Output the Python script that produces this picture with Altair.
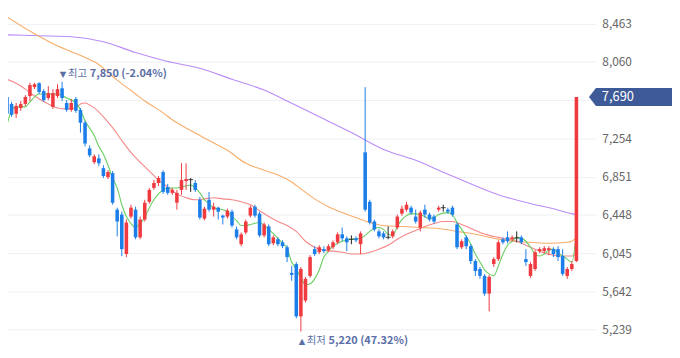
import altair as alt
import pandas as pd

# ---- daily candles (open, high, low, close) ----
opens = [7690, 7617, 7513, 7575, 7617, 7700, 7794, 7835, 7752, 7679, 7586, 7700, 7783, 7627, 7554, 7669,
         7554, 7419, 7148, 7003, 7044, 6940, 6846, 6888, 6503, 6451, 6035, 6430, 6503, 6211, 6399, 6586,
         6732, 6784, 6899, 6742, 6680, 6576, 6711, 6805, 6820, 6784, 6607, 6409, 6607, 6503, 6524, 6440,
         6430, 6482, 6295, 6139, 6263, 6440, 6534, 6461, 6232, 6326, 6149, 6191, 6159, 6107, 5837, 5930,
         5379, 5545, 5805, 6087, 6055, 6087, 6076, 6107, 6159, 6243, 6201, 6191, 6201, 6139, 7107, 6586,
         6378, 6274, 6253, 6211, 6222, 6315, 6461, 6503, 6524, 6430, 6315, 6503, 6451, 6430, 6503, 6524,
         6503, 6524, 6347, 6107, 6211, 6118, 5962, 5878, 5805, 5618, 5930, 5982, 6191, 6211, 6191, 6205,
         6211, 5982, 5805, 5878, 6066, 6066, 6076, 6087, 6087, 6014, 5805, 5878, 5962]
highs = [7752, 7638, 7627, 7648, 7710, 7840, 7840, 7845, 7773, 7804, 7773, 7825, 7850, 7658, 7669, 7690,
         7575, 7440, 7180, 7086, 7086, 6971, 6919, 6909, 6524, 6482, 6399, 6555, 6534, 6430, 6607, 6732,
         6815, 6857, 6919, 6773, 6732, 6711, 6992, 6992, 6836, 6815, 6638, 6534, 6690, 6576, 6534, 6451,
         6513, 6503, 6326, 6263, 6399, 6545, 6555, 6482, 6368, 6347, 6232, 6211, 6180, 6128, 5910, 5951,
         5899, 5795, 6024, 6118, 6128, 6118, 6139, 6180, 6263, 6315, 6222, 6232, 6222, 6274, 7794, 6607,
         6399, 6295, 6274, 6326, 6295, 6451, 6545, 6586, 6545, 6503, 6493, 6555, 6472, 6451, 6545, 6555,
         6524, 6545, 6368, 6191, 6232, 6139, 5982, 5899, 5826, 5816, 6003, 6180, 6211, 6274, 6232, 6274,
         6232, 6087, 5951, 6076, 6107, 6118, 6118, 6107, 6118, 6087, 5899, 5962, 7690]
lows = [7471, 7481, 7471, 7544, 7596, 7648, 7773, 7721, 7638, 7658, 7565, 7679, 7648, 7534, 7534, 7523,
        7315, 7169, 7055, 6982, 6961, 6836, 6826, 6555, 6222, 6014, 6003, 6409, 6191, 6191, 6378, 6565,
        6711, 6753, 6670, 6659, 6659, 6503, 6659, 6711, 6690, 6690, 6399, 6389, 6482, 6430, 6399, 6347,
        6409, 6315, 6191, 6118, 6243, 6420, 6420, 6211, 6211, 6118, 6128, 6118, 6097, 5951, 5753, 5358,
        5220, 5524, 5785, 6014, 6035, 6045, 6055, 6087, 6139, 6170, 6066, 6139, 6159, 6035, 6482, 6347,
        6274, 6201, 6191, 6191, 6201, 6295, 6440, 6482, 6451, 6357, 6274, 6420, 6378, 6357, 6482, 6482,
        6461, 6430, 6087, 6087, 6087, 5930, 5805, 5774, 5597, 5431, 5899, 5962, 6139, 6149, 6170, 6159,
        6139, 5910, 5785, 5857, 6045, 6045, 6024, 6003, 5962, 5805, 5774, 5857, 5951]
closes = [7513, 7502, 7596, 7617, 7690, 7815, 7825, 7742, 7658, 7731, 7731, 7773, 7679, 7554, 7627, 7544,
          7419, 7200, 7075, 7065, 6992, 6857, 6899, 6576, 6378, 6087, 6368, 6524, 6211, 6399, 6576, 6711,
          6784, 6836, 6690, 6680, 6711, 6680, 6815, 6826, 6820, 6711, 6420, 6513, 6503, 6534, 6482, 6420,
          6493, 6336, 6211, 6243, 6378, 6524, 6440, 6232, 6347, 6139, 6211, 6139, 6118, 6003, 5816, 5379,
          5878, 5774, 6003, 6035, 6107, 6066, 6118, 6159, 6243, 6201, 6159, 6191, 6180, 6253, 6503, 6368,
          6295, 6222, 6211, 6211, 6274, 6430, 6513, 6555, 6472, 6378, 6472, 6451, 6399, 6378, 6524, 6524,
          6482, 6451, 6107, 6170, 6118, 5962, 5857, 5805, 5618, 5795, 5982, 6159, 6159, 6170, 6211, 6205,
          6159, 5951, 5930, 6055, 6087, 6097, 6097, 6035, 6003, 5826, 5878, 5930, 7690]

# ---- moving averages: (candle index, value) ----
ma_short = [(0, 7398), (1, 7544), (2, 7586), (4, 7586), (5, 7638), (7, 7721), (9, 7721), (11, 7721),
            (13, 7679), (15, 7627), (16, 7554), (17, 7440), (19, 7284), (20, 7169), (21, 7086), (22, 6971),
            (23, 6836), (24, 6732), (25, 6555), (26, 6430), (27, 6357), (28, 6315), (29, 6357), (30, 6420),
            (31, 6524), (32, 6607), (33, 6669), (34, 6711), (35, 6732), (37, 6732), (39, 6753), (40, 6763),
            (41, 6732), (42, 6680), (43, 6607), (44, 6565), (45, 6524), (47, 6503), (48, 6482), (49, 6430),
            (50, 6388), (51, 6336), (52, 6336), (53, 6347), (55, 6368), (56, 6336), (57, 6295), (59, 6201),
            (60, 6149), (61, 6097), (62, 5951), (63, 5878), (64, 5785), (65, 5712), (66, 5722), (67, 5774),
            (68, 5868), (69, 6003), (70, 6066), (71, 6118), (73, 6170), (75, 6191), (77, 6201), (78, 6232),
            (79, 6274), (80, 6305), (81, 6315), (82, 6295), (83, 6243), (84, 6232), (85, 6326), (86, 6399),
            (87, 6440), (88, 6461), (90, 6451), (92, 6409), (93, 6420), (94, 6451), (96, 6472), (97, 6451),
            (98, 6368), (99, 6295), (100, 6222), (101, 6139), (102, 6035), (103, 5951), (104, 5868),
            (105, 5826), (106, 5805), (107, 5910), (108, 6035), (109, 6128), (110, 6170), (111, 6211),
            (112, 6201), (113, 6170), (114, 6107), (115, 6035), (116, 6014), (117, 6035), (118, 6076),
            (119, 6087), (120, 6045), (121, 6014), (122, 5982), (123, 5951), (124, 6263)]
ma_mid = [(0, 7877), (2, 7835), (4, 7773), (6, 7700), (9, 7617), (11, 7575), (13, 7565), (15, 7575),
          (16, 7617), (17, 7627), (18, 7606), (19, 7575), (21, 7481), (23, 7367), (25, 7232), (27, 7107),
          (29, 7003), (31, 6909), (33, 6815), (35, 6742), (37, 6669), (39, 6628), (41, 6607), (43, 6617),
          (45, 6628), (47, 6617), (49, 6607), (51, 6586), (53, 6555), (55, 6493), (57, 6430), (59, 6378),
          (61, 6336), (63, 6274), (65, 6170), (67, 6107), (69, 6076), (71, 6066), (73, 6055), (75, 6035),
          (77, 6035), (79, 6055), (81, 6087), (83, 6128), (85, 6191), (87, 6243), (89, 6284), (91, 6326),
          (93, 6357), (95, 6378), (97, 6378), (99, 6347), (101, 6305), (103, 6263), (105, 6232),
          (107, 6211), (109, 6191), (111, 6170), (113, 6128), (115, 6087), (117, 6045), (119, 6024),
          (121, 6014), (123, 6014), (124, 6035)]
ma_long = [(0, 8533), (6, 8356), (10, 8252), (14, 8168), (18, 8085), (20, 8033), (22, 7950), (24, 7867),
           (26, 7794), (28, 7721), (30, 7648), (32, 7586), (34, 7523), (36, 7450), (40, 7336), (44, 7232),
           (48, 7128), (52, 6992), (56, 6919), (60, 6846), (62, 6794), (64, 6722), (67, 6617), (70, 6534),
           (73, 6472), (76, 6420), (79, 6368), (82, 6336), (86, 6326), (90, 6315), (94, 6305), (98, 6274),
           (102, 6243), (106, 6201), (110, 6170), (114, 6159), (118, 6149), (122, 6159), (123, 6170),
           (124, 6211)]
ma_xlong = [(0, 8345), (7, 8335), (14, 8325), (21, 8273), (28, 8158), (35, 8064), (42, 7992), (49, 7877),
            (56, 7763), (61, 7648), (68, 7481), (75, 7315), (82, 7138), (89, 7023), (95, 6898), (98, 6836),
            (107, 6659), (115, 6555), (119, 6513), (123, 6461), (124, 6451)]

tick_values = [5239, 5642, 6045, 6448, 6851, 7254, 7657, 8060, 8463]
last_price = 7690
high_idx, high_val, high_pct = 12, 7850, "(-2.04%)"
low_idx, low_val, low_pct = 64, 5220, "(47.32%)"

FONT = "Noto Sans CJK KR"
RED, BLUE, DOJI = "#ef3b40", "#1c7ee9", "#222222"
NOTE = "#5b6ea6"
MA_COLORS = {"short": "#66cf5f", "mid": "#f68888", "long": "#f8ad6a", "xlong": "#b98cf8"}

# ---- tables ----
n = len(opens)
df = pd.DataFrame({"i": list(range(n)), "open": opens, "high": highs, "low": lows, "close": closes})
df["dir"] = ["up" if c > o else ("down" if c < o else "flat") for o, c in zip(opens, closes)]

xs = alt.Scale(domain=[-0.423, 127.17], nice=False, zero=False)
ys = alt.Scale(domain=[4962, 8689], nice=False, zero=False)
yaxis = alt.Axis(orient="right", values=tick_values, grid=True, gridColor="#eef0f5", gridWidth=1,
                 domain=False, ticks=False, labelPadding=6, labelFont=FONT, labelFontSize=12,
                 labelColor="#666666", title=None,
                 labelExpr="datum.value == 7657 ? '' : format(datum.value, ',')")


def X():
    return alt.X("i:Q", scale=xs, axis=None)


def Y(field):
    return alt.Y(f"{field}:Q", scale=ys, axis=yaxis, title=None)


def ma_layer(pts, col):
    d = pd.DataFrame({"i": [p[0] for p in pts], "v": [p[1] for p in pts]})
    return alt.Chart(d).mark_line(strokeWidth=1.1, interpolate="monotone", color=col).encode(
        x=X(), y=Y("v"))


lines = [ma_layer(ma_xlong, MA_COLORS["xlong"]), ma_layer(ma_long, MA_COLORS["long"]),
         ma_layer(ma_mid, MA_COLORS["mid"]), ma_layer(ma_short, MA_COLORS["short"])]

color = alt.Color("dir:N", scale=alt.Scale(domain=["up", "down", "flat"], range=[RED, BLUE, DOJI]),
                  legend=None)

base = alt.Chart(df)
wicks = base.mark_rule(strokeWidth=1).encode(x=X(), y=Y("low"), y2="high:Q", color=color)
bodies = base.mark_bar(size=3.6).encode(x=X(), y=Y("open"), y2="close:Q", color=color)
dojis = base.transform_filter("datum.dir == 'flat'").mark_tick(
    thickness=1.2, size=5, orient="horizontal").encode(x=X(), y=Y("open"), color=color)

hi_df = pd.DataFrame({"i": [high_idx], "v": [high_val], "num": [f"{high_val:,} {high_pct}"]})
lo_df = pd.DataFrame({"i": [low_idx], "v": [low_val], "num": [f"{low_val:,} {low_pct}"]})


def note(data, dy, arrow, word):
    c = alt.Chart(data)
    a = c.mark_text(text=arrow, fontSize=8.5, color=NOTE, align="center", baseline="middle",
                    dx=1, dy=dy, font="DejaVu Sans").encode(x=X(), y=Y("v"))
    w = c.mark_text(text=word, fontSize=10.5, color=NOTE, align="left", baseline="middle",
                    dx=6, dy=dy, font=FONT).encode(x=X(), y=Y("v"))
    t = c.mark_text(fontSize=11, fontWeight="bold", color=NOTE, align="left", baseline="middle",
                    dx=28, dy=dy, font=FONT).encode(x=X(), y=Y("v"), text="num:N")
    return [a, w, t]


badge_df = pd.DataFrame({"v": [last_price], "label": [f"{last_price:,}"]})
badge_shape = "M-1,0 L-0.833,-0.214 L1,-0.214 L1,0.214 L-0.833,0.214 Z"
badge = alt.Chart(badge_df).mark_point(shape=badge_shape, filled=True, size=7056, color="#3e5a98",
                                       opacity=1, strokeWidth=0).encode(x=alt.value(638), y=Y("v"))
badge_text = alt.Chart(badge_df).mark_text(align="left", baseline="middle", color="white",
                                           fontSize=13, font=FONT).encode(
    x=alt.value(609), y=Y("v"), text="label:N")

chart = alt.layer(
    *lines, wicks, bodies, dojis,
    *note(hi_df, -8, "▼", "최고"),
    *note(lo_df, 10, "▲", "최저"),
    badge, badge_text,
).properties(
    width=603, height=358,
    padding={"left": -8, "top": -8, "right": 77, "bottom": 0},
    autosize=alt.AutoSizeParams(type="none"),
).configure_view(stroke=None)

chart.save("out.html", embed_options={"renderer": "svg", "actions": False})
